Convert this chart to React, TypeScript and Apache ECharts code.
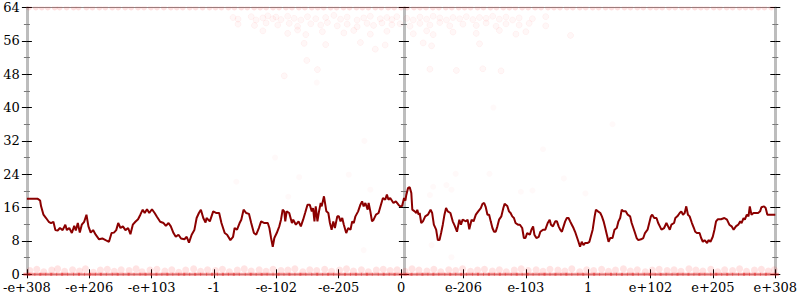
import React, { useEffect, useRef } from "react";
import * as echarts from "echarts";

// x axis: ordinal rank of the sampled inputs, 0 .. 754
const X_SPAN = 754;
const xLabels = ["-e+308", "-e+206", "-e+103", "-1", "-e-102", "-e-205", "0", "e-206", "e-103", "1", "e+102", "e+205", "e+308"];

// moving average of bits of error
const avgLine: [number, number][] = [
  [0, 18.1], [11, 18.1], [13.3, 17.7], [14.3, 16.3], [16.7, 14.3], [19.3, 13.5], [22, 12.6], [24.3, 12.3], [26.7, 12.6], [28.7, 10.6],
  [31, 10.5], [33.3, 11.1], [36, 10.6], [38.7, 11.9], [40.3, 10.6], [42.7, 11.1], [45.3, 9.9], [47.7, 11.6], [49.3, 10.5], [51.3, 12.3],
  [53.3, 10.0], [55.3, 11.9], [57.7, 12.6], [60, 14.3], [62, 11.5], [64.3, 10.0], [66.7, 10.6], [69.3, 9.5], [72.7, 8.4], [76, 8.6],
  [79.3, 8.2], [82.7, 7.8], [85.3, 9.9], [87.7, 10.0], [90, 10.6], [92, 12.3], [94.3, 11.1], [96.7, 11.5], [99.3, 10.6], [102, 11.1],
  [104.3, 9.6], [106.7, 11.9], [109.3, 12.6], [112, 13.2], [114.3, 14.3], [116.7, 15.5], [118.7, 14.7], [121, 15.6], [123.3, 14.7], [126, 15.6],
  [128.7, 14.7], [131, 13.8], [134.3, 12.6], [137.7, 12.3], [140, 11.6], [142.7, 12.3], [145, 11.5], [147.7, 9.9], [150, 9.0], [152.7, 9.5],
  [155.3, 8.6], [158.7, 8.4], [161, 9.0], [163.3, 7.6], [166, 9.5], [168.7, 10.6], [171, 13.5], [173.3, 14.7], [175.3, 15.5], [177.7, 13.5],
  [180, 12.4], [181, 13.5], [184.3, 12.7], [187.7, 15.1], [191, 14.7], [193.7, 14.7], [196, 12.3], [199.3, 9.9], [201.7, 9.5], [205, 8.2],
  [207.7, 9.0], [209.3, 11.1], [211.7, 10.7], [214.3, 12.3], [216, 13.1], [218.3, 15.5], [221, 14.7], [223.7, 14.5], [226, 12.3], [228.7, 9.9],
  [231, 9.5], [233.7, 11.1], [236, 12.7], [239.3, 12.3], [242.7, 12.3], [244.3, 11.1], [246, 8.7], [247.7, 6.6], [249.3, 8.7], [251.7, 9.9],
  [254.3, 11.5], [256, 13.1], [257.7, 15.5], [259.3, 15.1], [260.3, 12.7], [261.7, 15.1], [264.3, 14.7], [267, 12.3], [268.3, 13.1], [271, 11.9],
  [273.7, 12.7], [276, 11.5], [278.3, 13.1], [280.3, 14.7], [282.7, 16.7], [285, 16.7], [287, 15.1], [288.3, 15.9], [289.7, 12.7], [291, 16.3],
  [292.7, 12.7], [294.3, 15.1], [296, 17.1], [297, 16.3], [299.3, 18.7], [301.7, 15.1], [303.7, 14.7], [305.3, 12.3], [307, 10.7], [308.7, 12.7],
  [310.3, 11.1], [312.7, 13.9], [314.3, 13.9], [316, 12.7], [317.7, 13.5], [319.3, 11.9], [321.7, 9.9], [323.7, 11.1], [326, 10.7], [327.7, 12.7],
  [329.3, 12.3], [331, 13.9], [333.7, 15.1], [336, 16.7], [337.7, 17.5], [339.3, 16.3], [341, 17.1], [343.3, 15.5], [344.3, 17.1], [346, 15.1],
  [347.7, 12.7], [349.3, 13.1], [351.7, 14.3], [354.3, 14.7], [356.7, 16.7], [358.7, 18.3], [361, 17.9], [362.7, 19.1], [364.3, 17.9], [366, 18.3],
  [369.3, 17.1], [371.7, 17.5], [374.3, 16.7], [376, 16.3], [378, 16.4], [380, 18.3], [381.3, 17.7], [382.3, 19.1], [384, 20.7], [385.7, 20.9],
  [387.3, 19.5], [388.3, 15.5], [390.7, 15.1], [392.3, 14.7], [393.3, 15.5], [394.7, 14.3], [395.7, 14.7], [397.3, 12.3], [399, 12.7], [401.3, 13.9],
  [404, 14.3], [406.7, 15.5], [408.3, 14.7], [410, 11.9], [412.3, 10.7], [414, 8.2], [415.7, 8.2], [417.3, 9.9], [419, 11.9], [420.7, 14.3],
  [422.3, 15.9], [424, 15.1], [426.7, 14.7], [429, 12.7], [431.3, 11.5], [433.3, 10.2], [435.7, 13.1], [437.3, 11.9], [439, 13.1], [442.3, 12.7],
  [444, 13.1], [445.7, 10.8], [448, 13.1], [450, 12.7], [452.3, 14.3], [454.7, 15.1], [457.3, 15.9], [459, 16.9], [460.7, 17.1], [462.3, 16.1],
  [464, 14.3], [465.7, 14.3], [467.3, 12.7], [469, 11.1], [470.7, 10.2], [472.3, 10.2], [474, 11.5], [475.7, 13.1], [478, 13.9], [480, 15.9],
  [481.3, 16.9], [484, 16.4], [485.7, 15.1], [487.3, 14.7], [489, 13.9], [490.7, 13.5], [492.3, 12.3], [494.7, 11.9], [496.7, 11.9], [499, 11.1],
  [500.7, 8.7], [502.3, 8.7], [504, 9.9], [506.7, 9.5], [508.3, 10.7], [510, 11.5], [511.3, 9.5], [513.3, 8.7], [515.7, 9.0], [517.3, 10.2],
  [520, 10.7], [522.3, 10.7], [524.7, 12.3], [526.7, 13.1], [528, 11.9], [530, 11.5], [532.3, 12.7], [534, 12.7], [535.7, 11.5], [537.3, 10.7],
  [539, 10.2], [540.7, 11.5], [542.3, 12.7], [544, 13.5], [545.7, 13.5], [547.3, 12.7], [549, 11.9], [550.7, 11.1], [552.3, 10.2], [554, 9.0],
  [555.7, 7.8], [557.3, 6.6], [559, 7.8], [560.7, 7.0], [562.3, 7.5], [564.7, 7.5], [566.7, 7.8], [570, 10.7], [572, 13.9], [573.3, 15.5],
  [575.3, 15.1], [577.7, 14.7], [579.3, 13.9], [581, 12.7], [582.7, 11.1], [584.3, 9.5], [586, 7.8], [587.7, 8.7], [590, 8.7], [592, 10.7],
  [594.3, 11.1], [596, 12.7], [597.7, 13.5], [599.3, 15.5], [601, 15.1], [603.3, 15.1], [605.3, 14.3], [607.7, 13.9], [609.3, 12.3], [611, 11.1],
  [612.7, 9.9], [614.3, 8.7], [616, 8.2], [618.7, 8.4], [621, 8.7], [622.7, 9.9], [625.3, 10.7], [627, 12.3], [628.7, 13.9], [630, 14.3],
  [632, 13.5], [634.3, 13.5], [636, 12.3], [637.7, 11.5], [639.3, 10.7], [642, 11.1], [644.3, 12.3], [646, 11.5], [647.7, 10.7], [649.3, 11.9],
  [652, 12.3], [653.3, 13.5], [655.3, 13.9], [657.7, 14.7], [659.3, 15.1], [661, 14.3], [662.7, 14.7], [664.3, 16.3], [666, 14.3], [667.7, 13.9],
  [670, 12.3], [672, 11.1], [673.3, 10.2], [675.3, 9.9], [677.7, 9.9], [679.3, 8.7], [681, 7.8], [682.7, 8.2], [685.3, 7.5], [686.7, 8.2],
  [688.7, 7.8], [691, 9.0], [692.7, 10.7], [694.3, 12.7], [696, 13.2], [699.3, 13.2], [702.7, 13.5], [705.3, 13.1], [707.7, 11.9], [710, 11.5],
  [712, 10.7], [714.3, 11.5], [716.7, 11.9], [718.7, 12.7], [720, 12.3], [722, 13.5], [723.3, 13.1], [725.3, 14.3], [727, 13.9], [728.3, 16.3],
  [730, 14.3], [732, 14.7], [734.3, 14.7], [736.7, 14.7], [738.7, 15.1], [740, 16.1], [742.7, 16.3], [744.3, 15.9], [746, 14.3], [754, 14.3],
];

// samples with 64 bits of error
const topRowX = [2, 9, 15, 21, 28, 33, 40, 47, 52, 60, 66, 73, 79, 86, 92, 99, 105, 112, 118, 125, 131, 138, 145, 151, 157, 164, 170, 177, 184, 190,
  196, 203, 209, 216, 222, 229, 235, 241, 248, 254, 261, 267, 274, 280, 287, 293, 299, 306, 312, 319, 325, 332, 338, 344, 351, 357, 364, 370, 377, 383,
  390, 396, 402, 409, 415, 422, 428, 435, 441, 447, 454, 460, 467, 473, 480, 486, 492, 499, 505, 512, 518, 525, 531, 537, 544, 550, 557, 563, 570, 576,
  583, 589, 595, 602, 608, 615, 621, 628, 634, 640, 647, 653, 660, 666, 673, 679, 685, 692, 698, 705, 711, 718, 724, 730, 737, 743, 750];

// samples with 0 bits of error
const zeroRowX = [0, 5, 11, 16, 22, 27, 33, 38, 44, 50, 55, 61, 66, 72, 77, 83, 89, 94, 100, 105, 111, 117, 122, 128, 133, 139, 144, 150, 156, 161,
  167, 172, 178, 184, 189, 195, 200, 206, 211, 217, 223, 228, 234, 239, 245, 251, 256, 262, 267, 273, 278, 284, 290, 295, 301, 306, 312, 318, 323, 329,
  334, 340, 345, 351, 357, 362, 368, 373, 379, 385, 390, 396, 401, 407, 412, 418, 424, 429, 435, 440, 446, 452, 457, 463, 468, 474, 479, 485, 491, 496,
  502, 507, 513, 519, 524, 530, 535, 541, 546, 552, 558, 563, 569, 574, 580, 586, 591, 597, 602, 608, 613, 619, 625, 630, 636, 641, 647, 653, 658, 664,
  669, 675, 680, 686, 692, 697, 703, 708, 714, 720, 725, 731, 736, 742, 747, 754];

// samples with about one bit of error
const lowBand: [number, number][] = [
  [3, 0.9], [10, 1.2], [17, 0.6], [25, 1.0], [31, 1.3], [38, 0.7], [46, 1.1], [53, 0.8], [59, 1.3], [67, 0.5], [74, 1.0], [81, 1.2], [88, 0.7], [95, 1.1],
  [103, 0.9], [110, 1.3], [116, 0.6], [124, 1.0], [131, 1.2], [139, 0.8], [146, 1.1], [153, 0.5], [160, 1.0], [168, 1.3], [175, 0.7], [182, 1.1], [190, 0.9],
  [197, 1.2], [204, 0.6], [212, 1.0], [219, 1.3], [226, 0.8], [234, 1.1], [241, 0.7], [248, 1.2], [256, 0.9], [263, 1.0], [270, 1.3], [278, 0.6], [285, 1.1],
  [292, 0.9], [300, 1.2], [307, 0.7], [315, 1.0], [322, 1.3], [329, 0.8], [337, 1.1], [344, 0.6], [352, 1.0], [359, 1.2], [366, 0.9], [373, 1.1], [381, 0.7],
  [388, 1.3], [395, 1.0], [403, 0.8], [410, 1.2], [417, 0.6], [425, 1.1], [432, 0.9], [439, 1.3], [447, 0.7], [454, 1.0], [461, 1.2], [469, 0.8], [476, 1.1],
  [483, 0.6], [491, 1.0], [498, 1.3], [505, 0.9], [513, 1.1], [520, 0.7], [527, 1.2], [535, 1.0], [542, 0.8], [549, 1.3], [557, 0.6], [564, 1.1], [571, 0.9],
  [579, 1.2], [586, 0.7], [593, 1.0], [601, 1.3], [608, 0.8], [615, 1.1], [623, 0.6], [630, 1.0], [637, 1.2], [645, 0.9], [652, 1.1], [659, 0.7], [667, 1.3],
  [674, 1.0], [681, 0.8], [689, 1.2], [696, 0.6], [703, 1.1], [711, 0.9], [718, 1.3], [725, 0.7], [733, 1.0], [740, 1.2], [747, 0.8], [753, 1.1],
];

// samples with high error (below 64)
const upperScatter: [number, number][] = [
  [207.7, 61.6], [212.7, 61.2], [226, 61.8], [231, 61.0], [237.7, 61.5], [242.7, 62.0], [247.7, 61.3], [251, 61.7], [256, 61.1], [262.7, 61.9],
  [269.3, 61.4], [276, 61.0], [282.7, 61.8], [291, 61.3], [301, 61.6], [309.3, 62.1], [316, 61.2], [322.7, 61.7], [332.7, 61.0], [339.3, 61.5],
  [346, 61.9], [356, 61.3], [362.7, 61.6], [367.7, 61.1], [372.7, 61.8], [382.7, 61.4], [389.3, 61.0], [396, 61.7], [402.7, 61.2], [409.3, 61.9],
  [416, 61.5], [422.7, 61.0], [429.3, 61.6], [436, 61.3], [442.7, 61.8], [449.3, 61.1], [456, 61.6], [462.7, 61.4], [469.3, 61.9], [476, 61.2],
  [482.7, 61.7], [489.3, 61.0], [496, 61.5], [509.3, 61.3], [522.7, 61.8],
  [212.7, 60.0], [229.3, 59.7], [241, 60.3], [252.7, 59.8], [264.3, 60.2], [272.7, 59.5], [286, 60.1], [296, 59.8], [302.7, 60.4], [312.7, 59.6],
  [322.7, 60.0], [332.7, 59.4], [342.7, 60.2], [349.3, 59.7], [357.7, 60.3], [367.7, 59.9], [376, 60.1], [386, 59.5], [396, 60.2], [406, 59.8],
  [416, 60.4], [426, 59.6], [439.3, 60.0], [452.7, 59.7], [462.7, 60.3], [472.7, 59.5], [482.7, 60.1], [496, 59.8], [506, 60.2], [522.7, 59.6],
  [237.7, 58.4], [262.7, 57.8], [272.7, 58.6], [281, 57.5], [297.7, 58.2], [319.3, 57.9], [329.3, 58.5], [346, 57.6], [362.7, 58.3], [389.3, 57.7],
  [402.7, 58.4], [409.3, 57.5], [429.3, 58.1], [452.7, 57.8], [476, 58.5], [492.7, 57.6], [502.7, 58.2], [547.7, 57.3],
  [279.3, 55.4], [301, 55.1], [336, 55.6], [361, 55.0], [399.3, 55.5], [407.7, 54.8], [456, 55.3],
  [351, 54.0], [282, 51.3], [292.7, 49.1], [406, 49.2], [432.7, 48.9], [459.3, 49.3], [477.7, 48.8], [259.3, 47.6],
];

// scattered samples in the middle range
const midScatter: [number, number][] = [
  [211, 22.2], [274.3, 23.3], [263.3, 18.6], [324.3, 23.9], [346, 20.3], [339.3, 5.8], [432, 24.1], [466, 24.1], [541, 23.0], [409.3, 21.0],
  [422.7, 21.4], [427.7, 20.3], [406, 19.0], [562.7, 19.4], [497.7, 19.8], [509.3, 20.1], [407.7, 7.0], [427.7, 4.1],
  [292, 46], [340, 32], [470, 40], [520, 30], [250, 28], [590, 36],
];

const FONT = "DejaVu Serif";

function yAxisDef(position: "left" | "right", offset: number, inside: boolean, showLine: boolean, showLabel: boolean) {
  return {
    type: "value",
    min: 0,
    max: 64,
    interval: 8,
    position,
    offset,
    axisLine: { show: showLine, onZero: false, lineStyle: { color: "#bdbdbd", width: 3 } },
    axisTick: { show: true, inside, length: 5, lineStyle: { color: "#000", width: 1 } },
    minorTick: { show: true, splitNumber: 2, length: 3, lineStyle: { color: "#777", width: 1 } },
    axisLabel: { show: showLabel, fontFamily: FONT, fontSize: 13, color: "#000", margin: 7 },
    splitLine: { show: false },
  };
}

export default function App() {
  const ref = useRef<HTMLDivElement>(null);
  useEffect(() => {
    if (!ref.current) return;
    const chart = echarts.init(ref.current, null, { renderer: "svg" });
    const step = X_SPAN / (xLabels.length - 1);
    const xTickPos = xLabels.map((_, i) => i * step);
    const gridLeft = 24;
    const gridRight = 22;
    const plotW = 800 - gridLeft - gridRight;
    const centerOffset = -(plotW / 2);

    const xBase = {
      type: "value",
      min: 0,
      max: X_SPAN,
      splitLine: { show: false },
    };

    chart.setOption({
      animation: false,
      backgroundColor: "#fff",
      grid: { left: gridLeft, right: gridRight, top: 7.5, bottom: 25.7, containLabel: false },
      xAxis: [
        {
          ...xBase,
          position: "bottom",
          axisLine: { show: true, onZero: false, lineStyle: { color: "#bdbdbd", width: 1 } },
          axisTick: { show: true, inside: false, length: 4, customValues: xTickPos, lineStyle: { color: "#000", width: 1 } },
          axisLabel: {
            show: true,
            customValues: xTickPos,
            fontFamily: FONT,
            fontSize: 13,
            color: "#000",
            margin: 7,
            formatter: (v: number) => xLabels[Math.round(v / step)] ?? "",
          },
        },
        {
          ...xBase,
          position: "bottom",
          axisLine: { show: false, onZero: false },
          axisTick: { show: true, inside: true, length: 5, customValues: xTickPos, lineStyle: { color: "#000", width: 1 } },
          axisLabel: { show: false },
        },
        {
          ...xBase,
          position: "top",
          axisLine: { show: true, onZero: false, lineStyle: { color: "#8a8a8a", width: 1 } },
          axisTick: { show: false },
          axisLabel: { show: false },
        },
      ],
      yAxis: [
        yAxisDef("left", 0, false, true, true),
        yAxisDef("left", 0, true, false, false),
        yAxisDef("left", centerOffset, false, true, false),
        yAxisDef("left", centerOffset, true, false, false),
        yAxisDef("right", 0, false, true, false),
        yAxisDef("right", 0, true, false, false),
      ],
      series: [
        {
          type: "scatter",
          data: lowBand,
          symbolSize: 7,
          itemStyle: { color: "rgba(255,40,40,0.16)" },
          z: 2,
        },
        {
          type: "scatter",
          data: zeroRowX.map((x) => [x, 0]),
          symbol: "rect",
          symbolSize: [7, 3],
          itemStyle: { color: "rgba(230,20,20,0.55)" },
          z: 3,
        },
        {
          type: "scatter",
          data: topRowX.map((x) => [x, 64]),
          symbolSize: 6,
          itemStyle: { color: "rgba(255,40,40,0.18)" },
          z: 2,
        },
        {
          type: "scatter",
          data: upperScatter,
          symbolSize: 6,
          itemStyle: { color: "rgba(255,60,60,0.05)", borderColor: "rgba(255,0,0,0.05)", borderWidth: 1 },
          z: 2,
        },
        {
          type: "scatter",
          data: midScatter,
          symbolSize: 6,
          itemStyle: { color: "rgba(255,60,60,0.04)" },
          z: 2,
        },
        {
          type: "line",
          data: avgLine,
          showSymbol: false,
          symbol: "none",
          lineStyle: { color: "#8b0000", width: 2 },
          z: 5,
        },
      ],
      graphic: [
        {
          type: "rect",
          shape: { x: 19, y: 0, width: 781, height: 6.5 },
          style: { fill: "#fff" },
          z: 100,
          silent: true,
        },
      ],
    });
    return () => chart.dispose();
  }, []);
  return <div ref={ref} style={{ position: "fixed", left: 0, top: 0, width: 800, height: 300 }} />;
}
